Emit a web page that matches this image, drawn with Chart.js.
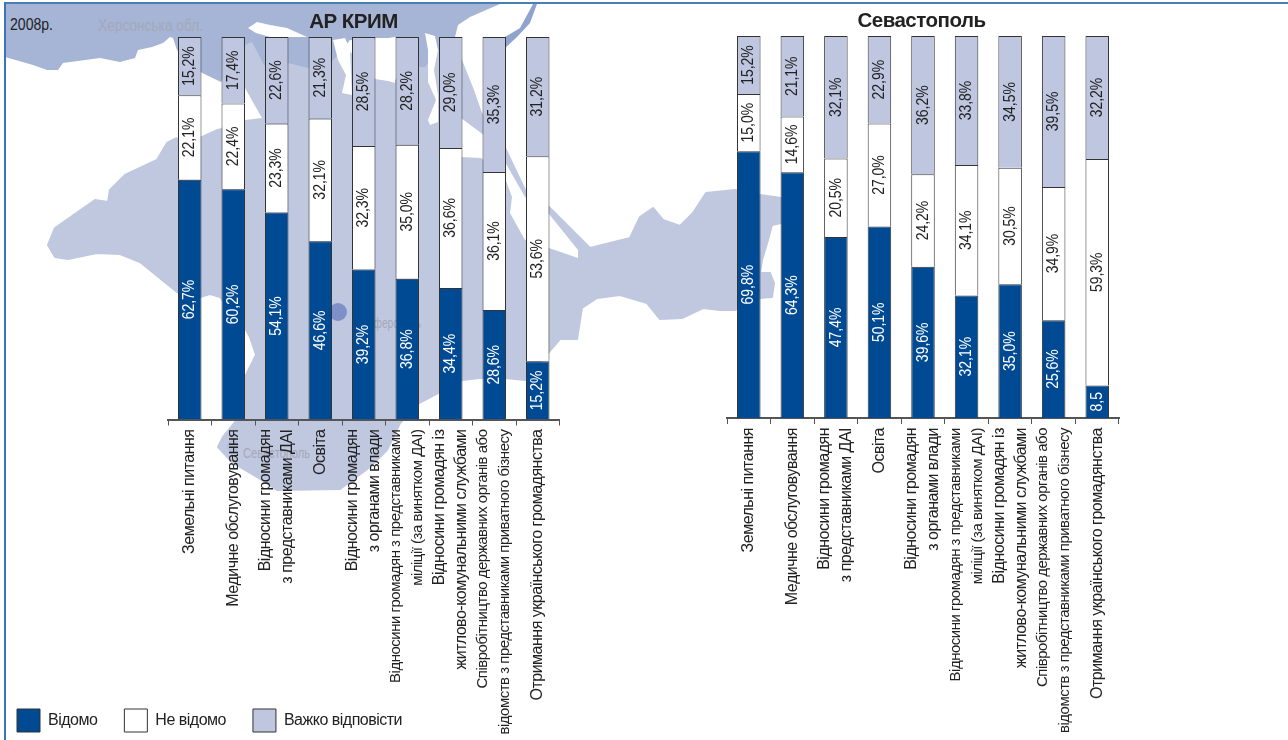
<!DOCTYPE html>
<html lang="uk">
<head>
<meta charset="utf-8">
<title>Відомо / Не відомо</title>
<script src="https://cdn.jsdelivr.net/npm/chart.js@4/dist/chart.umd.min.js"></script>
<style>
  html, body { margin: 0; padding: 0; background: #fff; overflow: hidden; }
  #page { position: relative; width: 1288px; height: 740px; overflow: hidden; }
  #map { position: absolute; left: 0; top: 0; }
  .frame-top { position: absolute; left: 5px; top: 2px; right: 0; height: 2px; background: #4a7fb5; }
  .frame-left { position: absolute; left: 4px; top: 2px; bottom: 0; width: 2px; background: #3a74bd; }
  .holder { position: absolute; top: 0; height: 740px; }
  #holderCrimea { left: -10px; width: 727px; }
  #holderSev { left: 555px; width: 733px; top: -1px; }
</style>
</head>
<body>
<div id="page">
  <svg id="map" width="1288" height="740" viewBox="0 0 1288 740">
    <!-- Кримський півострів -->
    <path fill="#c0c8e0" stroke="#c0c8e0" stroke-width="2" stroke-linejoin="round" d="M48,245 L55,228 L95,200 L108,202 L110,190 L125,175 L157,160 L167,143 L177,138 L200,138 L222,128 L245,118 L245,40 L270,45 L308,45 L335,37 L375,80 L395,83 L418,37 L438,37 L461,60 L473,90 L481,113 L505,148 L525,190 L549,207 L590,248 L630,238 L640,217 L653,208 L663,220 L680,226 L693,213 L706,193 L735,190 L760,195 L781,198 L781,223 L772,225 L768,240 L762,260 L760,273 L770,273 L774,283 L772,297 L760,298 L735,310 L720,310 L703,308 L682,318 L660,319 L647,303 L620,295 L597,298 L582,308 L577,339 L560,339 L548,353 L525,380 L505,378 L480,378 L462,380 L438,393 L419,403 L400,423 L387,450 L370,467 L340,489 L277,490 L257,477 L233,463 L218,447 L223,437 L237,420 L245,377 L256,355 L250,337 L245,328 L220,297 L210,294 L200,297 L177,292 L140,262 L120,254 L97,253 L68,259 L55,257 Z"/>
    <!-- Херсонська область -->
    <path fill="#a6b5d6" d="M5,4 L500,4 L470,17 L458,25 L455,37 L438,50 L425,67 L418,67 L416,37 L395,37 L375,40 L350,40 L338,55 L331,62 L308,68 L288,63 L264,65 L252,42 L245,45 L221,82 L200,72 L177,50 L173,38 L170,37 L163,43 L152,47 L138,50 L135,58 L120,62 L100,58 L63,63 L58,70 L47,70 L33,65 L5,57 Z"/>
    <path fill="#8fa3cf" d="M533,4 L537,4 L530,23 L517,37 L505,48 L505,37 L520,28 Z"/>
    <!-- затоки -->
    <path fill="#fff" d="M248,28 L257,22 L270,25 L287,28 L307,37 L288,37 L270,37 L256,33 Z"/>
    <path fill="#fff" d="M245,88 L262,118 L245,120 L236,118 Z"/>
    <path fill="#fff" d="M200,72 L220,83 L222,128 L200,132 L177,138 L177,55 Z"/>
    <path fill="#fff" d="M333,40 L345,38 L350,50 L352,95 L342,93 L346,75 L338,60 Z"/>
    <path fill="#fff" d="M375,38 L395,38 L395,83 L385,80 L375,68 Z"/>
    <path fill="#fff" d="M425,33 L435,36 L438,50 L434,70 L438,95 L438,122 L430,125 L428,120 L436,100 L428,82 L428,50 Z"/>
    <path fill="#fff" d="M461,118 L481,133 L505,150 L505,162 L505,178 L481,158 L461,157 Z"/>
    <path fill="#fff" d="M505,162 L525,197 L549,214 L578,250 L578,258 L549,248 L525,240 L510,213 L512,197 L505,178 Z"/>
    <circle cx="338" cy="312" r="9" fill="#7f90c8"/>
    <circle cx="233" cy="446" r="6" fill="#b3bcd9"/>
    <g font-family="'Liberation Sans', sans-serif" fill="#a3a8b8">
      <text x="98" y="31" font-size="16" textLength="105" lengthAdjust="spacingAndGlyphs">Херсонська обл.</text>
      <text x="357" y="328" font-size="14" textLength="64" lengthAdjust="spacingAndGlyphs">Сімферополь</text>
      <text x="243" y="458" font-size="14" textLength="67" lengthAdjust="spacingAndGlyphs">Севастополь</text>
    </g>
    <text x="10" y="30" font-family="'Liberation Sans', sans-serif" font-size="16" fill="#222" textLength="43" lengthAdjust="spacingAndGlyphs">2008р.</text>
  </svg>
  <div class="frame-top"></div>
  <div class="frame-left"></div>
  <div class="holder" id="holderCrimea"><canvas id="chartCrimea"></canvas></div>
  <div class="holder" id="holderSev"><canvas id="chartSev"></canvas></div>
</div>

<script>
const categories = [
  "Земельні питання",
  "Медичне обслуговування",
  ["Відносини громадян", "з представниками ДАІ"],
  "Освіта",
  ["Відносини громадян", "з органами влади"],
  ["Відносини громадян з представниками", "міліції (за винятком ДАІ)"],
  ["Відносини громадян із", "житлово-комунальними службами"],
  ["Співробітництво державних органів або", "відомств з представниками приватного бізнесу"],
  "Отримання українського громадянства",
];
const seriesNames = ["Відомо", "Не відомо", "Важко відповісти"];

const crimeaKnown = [62.7, 60.2, 54.1, 46.6, 39.2, 36.8, 34.4, 28.6, 15.2];
const crimeaUnknown = [22.1, 22.4, 23.3, 32.1, 32.3, 35.0, 36.6, 36.1, 53.6];
const crimeaHard = [15.2, 17.4, 22.6, 21.3, 28.5, 28.2, 29.0, 35.3, 31.2];

const sevKnown = [69.8, 64.3, 47.4, 50.1, 39.6, 32.1, 35.0, 25.6, 8.5];
const sevUnknown = [15.0, 14.6, 20.5, 27.0, 24.2, 34.1, 30.5, 34.9, 59.3];
const sevHard = [15.2, 21.1, 32.1, 22.9, 36.2, 33.8, 34.5, 39.5, 32.2];

const FONT = '"Liberation Sans", sans-serif';
const colors = ["#004a94", "#ffffff", "#bec6e0"];
const labelColors = ["#ffffff", "#222222", "#222222"];

// Підписи значень: повернуті на 90 градусів, у центрі кожного сегмента
const valueLabels = {
  id: "valueLabels",
  afterDatasetsDraw(chart) {
    const ctx = chart.ctx;
    chart.data.datasets.forEach((ds, d) => {
      chart.getDatasetMeta(d).data.forEach((bar, i) => {
        const v = ds.data[i];
        // у вузькому сегменті 8,5 знак % не вміщується
        const text = v.toFixed(1).replace(".", ",") + (v < 10 ? "" : "%");
        ctx.save();
        ctx.letterSpacing = "0px";
        ctx.translate(bar.x, (bar.y + bar.base) / 2);
        ctx.rotate(-Math.PI / 2);
        ctx.scale(0.82, 1); // вузький шрифт оригіналу
        ctx.font = "17px " + FONT;
        ctx.fillStyle = labelColors[d];
        ctx.textAlign = "center";
        ctx.textBaseline = "middle";
        ctx.fillText(text, 0, 0);
        ctx.restore();
      });
    });
  },
};

// Трохи стискає решту тексту. Контекст скидається при зміні розміру, тому ставимо щоразу
const tightText = {
  id: "tightText",
  beforeUpdate(chart) { chart.ctx.letterSpacing = "-0.5px"; },
  beforeDraw(chart) { chart.ctx.letterSpacing = "-0.5px"; },
};

// Багаторядкові підписи осі центруються відносно поділки;
// висота осі менша за довжину підписів, тому розсуваємо її межу, інакше їх обріже
const tickLabelFix = {
  id: "tickLabelFix",
  afterUpdate(chart) {
    const scale = chart.scales.x;
    scale.getLabelItems(chart.chartArea).forEach((item) => {
      if (Array.isArray(item.label)) {
        item.textOffset -= ((item.label.length - 1) * item.font.lineHeight) / 2;
      }
    });
    scale.bottom = chart.height;
  },
};

function tickFont(context) {
  // дві найдовші категорії в оригіналі набрані дрібніше
  const size = context.index === 5 || context.index === 7 ? 15 : 16;
  return { family: FONT, size: size, lineHeight: 22 / size };
}

function makeChart(canvasId, title, values, opts) {
  return new Chart(document.getElementById(canvasId), {
    type: "bar",
    data: {
      labels: categories,
      datasets: values.map((data, d) => ({
        label: seriesNames[d],
        data: data,
        backgroundColor: colors[d],
        borderColor: "#333333",
        borderWidth: 1,
        categoryPercentage: 1,
        barPercentage: 0.54,
      })),
    },
    options: {
      responsive: true,
      maintainAspectRatio: false,
      animation: false,
      layout: { padding: { bottom: opts.bottom } },
      plugins: {
        tooltip: { enabled: false },
        title: {
          display: true,
          text: title,
          color: "#222222",
          font: { family: FONT, size: 20.5, weight: "bold", lineHeight: 24 / 20.5 },
          padding: { top: 10, bottom: 3 },
        },
        legend: {
          display: opts.legend,
          position: "bottom",
          align: "start",
          padding: 6,
          labels: {
            boxWidth: 23,
            boxHeight: 23,
            padding: 27,
            color: "#222222",
            font: { family: FONT, size: 16 },
          },
        },
      },
      scales: {
        x: {
          stacked: true,
          afterFit: (scale) => { scale.height = opts.axisHeight; },
          border: { color: "#555555", width: 2 },
          grid: { drawOnChartArea: false, drawTicks: true, tickLength: 6, tickColor: "#555555", tickWidth: 1 },
          ticks: {
            autoSkip: false,
            minRotation: 90,
            maxRotation: 90,
            padding: 4,
            color: "#222222",
            font: tickFont,
          },
        },
        y: {
          stacked: true,
          min: 0,
          max: 100,
          afterFit: (scale) => { scale.width = opts.axisLeft; },
          border: { display: false },
          grid: { display: false, drawTicks: false },
          ticks: { display: false },
        },
        // порожня вісь справа: лишає місце, щоб заголовок центрувався по всьому полотну
        spacer: {
          position: "right",
          afterFit: (scale) => { scale.width = opts.axisRight; },
          border: { display: false },
          grid: { display: false, drawTicks: false },
          ticks: { display: false },
        },
      },
    },
    plugins: [tightText, valueLabels, tickLabelFix],
  });
}

makeChart("chartCrimea", "АР КРИМ", [crimeaKnown, crimeaUnknown, crimeaHard], {
  legend: true,
  axisLeft: 178,
  axisRight: 157.5,
  axisHeight: 262.5,
  bottom: -2,
});
makeChart("chartSev", "Севастополь", [sevKnown, sevUnknown, sevHard], {
  legend: false,
  axisLeft: 172,
  axisRight: 169,
  axisHeight: 321,
  bottom: 0,
});
</script>
</body>
</html>
